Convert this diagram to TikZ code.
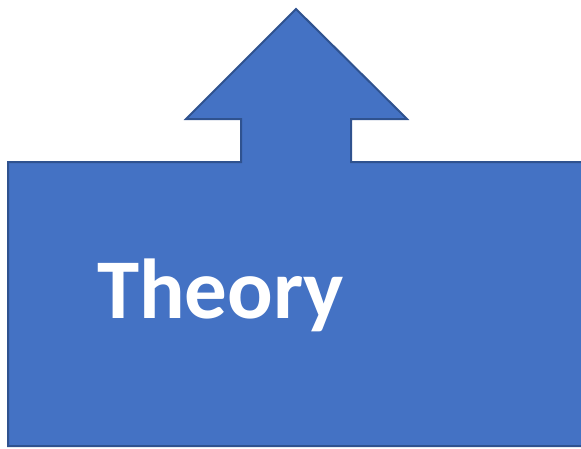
\documentclass[tikz,border=0pt]{standalone}
\usepackage{fontspec}
\setmainfont{Carlito}
\definecolor{fillblue}{HTML}{4472C4}
\definecolor{edgeblue}{HTML}{2F528F}
\begin{document}
\begin{tikzpicture}[x=1pt,y=-1pt,
  shapestyle/.style={fill=fillblue,draw=edgeblue,line width=2pt,line join=miter},
  labelstyle/.style={text=white,font=\bfseries\fontsize{85}{100}\selectfont,inner sep=0pt,anchor=base west}]
\useasboundingbox (0,0) rectangle (581,448);
\draw[shapestyle] (8,162) -- (241,162) -- (241,119) -- (186,119) -- (296,9) -- (407,119) -- (351,119) -- (351,162) -- (590,162) -- (590,446) -- (8,446) -- cycle;
\node[labelstyle] (t) at (97,318) {Theory};
\end{tikzpicture}
\end{document}
